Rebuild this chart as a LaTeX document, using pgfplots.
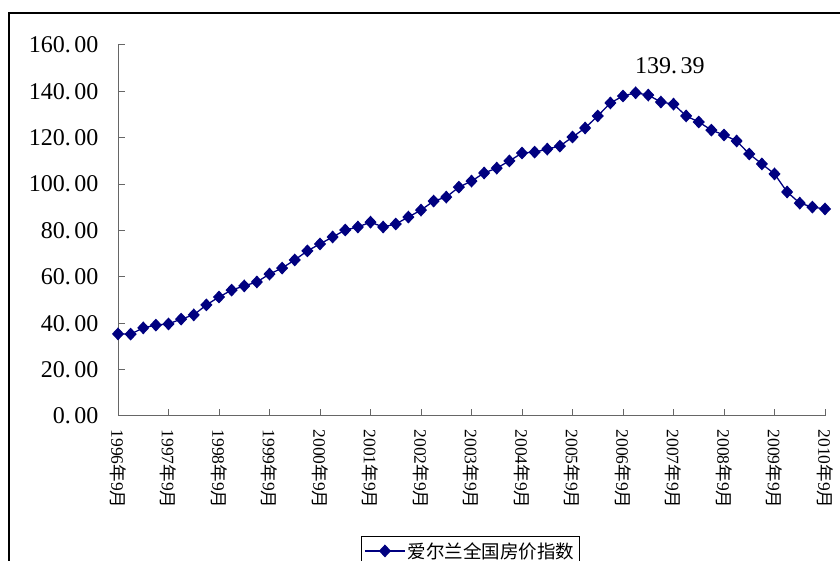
\documentclass[border=0pt]{standalone}
\usepackage{pgfplots}
\pgfplotsset{compat=1.18}
\usepackage{fontspec}
\setmainfont{Liberation Serif}
\newfontfamily\cjk{Noto Sans CJK SC}
\newcommand\ym[1]{#1{\cjk 年}9{\cjk 月}}
\definecolor{navy}{HTML}{000080}
\begin{document}
\begin{tikzpicture}[x=1pt,y=1pt]
\useasboundingbox (0,0) rectangle (840,561);
\draw[line width=2pt] (9,-5) -- (9,548) -- (845,548);
\begin{axis}[
  at={(118pt,145pt)}, anchor=south west,
  scale only axis, width=707pt, height=371pt,
  xmin=0, xmax=56, ymin=0, ymax=160,
  clip=false,
  axis lines*=left,
  axis line style={black!60, line width=1pt},
  tick style={black!60, line width=1pt},
  tick align=inside,
  major tick length=7pt,
  xtick={0,4,...,56},
  xticklabels={\ym{1996},\ym{1997},\ym{1998},\ym{1999},\ym{2000},\ym{2001},\ym{2002},\ym{2003},\ym{2004},\ym{2005},\ym{2006},\ym{2007},\ym{2008},\ym{2009},\ym{2010}},
  xticklabel style={font=\fontsize{17.5}{17.5}\selectfont, rotate=-90, anchor=west, xshift=10pt},
  ytick={0,20,...,160},
  yticklabels={0.\kern3.5pt00,20.\kern3.5pt00,40.\kern3.5pt00,60.\kern3.5pt00,80.\kern3.5pt00,100.\kern3.5pt00,120.\kern3.5pt00,140.\kern3.5pt00,160.\kern3.5pt00},
  yticklabel style={font=\fontsize{24}{24}\selectfont, anchor=east, xshift=-16pt},
  legend style={at={(0.3437,-0.3235)}, anchor=north west, draw=black, line width=0.6pt,
     font=\cjk\fontsize{18.5}{20}\selectfont, inner xsep=3pt, inner ysep=4pt},
  legend image code/.code={\draw[mark repeat=2,mark phase=2,#1] plot coordinates {(0pt,0pt) (20pt,0pt) (40pt,0pt)};},
]
\addplot[navy, line width=1.3pt, mark=diamond*, mark size=5.5pt, mark options={xscale=1.25, solid}] coordinates {
(0,35.4)(1,35.3)(2,38.0)(3,39.2)(4,39.7)(5,41.8)(6,43.6)(7,47.9)(8,51.3)(9,54.3)
(10,56.1)(11,57.8)(12,61.2)(13,63.8)(14,67.3)(15,71.2)(16,74.2)(17,77.2)(18,80.2)(19,81.5)
(20,83.6)(21,81.5)(22,82.8)(23,85.8)(24,88.8)(25,92.7)(26,94.4)(27,98.7)(28,101.3)(29,104.8)
(30,106.9)(31,110.0)(32,113.4)(33,113.8)(34,115.1)(35,116.4)(36,120.3)(37,124.2)(38,129.4)(39,135.0)
(40,138.0)(41,139.39)(42,138.4)(43,135.4)(44,134.5)(45,129.4)(46,126.8)(47,123.3)(48,121.2)(49,118.6)
(50,113.0)(51,108.7)(52,104.4)(53,96.6)(54,91.8)(55,90.1)(56,89.3)
};
\addlegendentry{爱尔兰全国房价指数}
\node[font=\fontsize{24}{24}\selectfont] at (axis cs:43.72,150.9) {139.\kern3.5pt39};
\end{axis}
\end{tikzpicture}
\end{document}
